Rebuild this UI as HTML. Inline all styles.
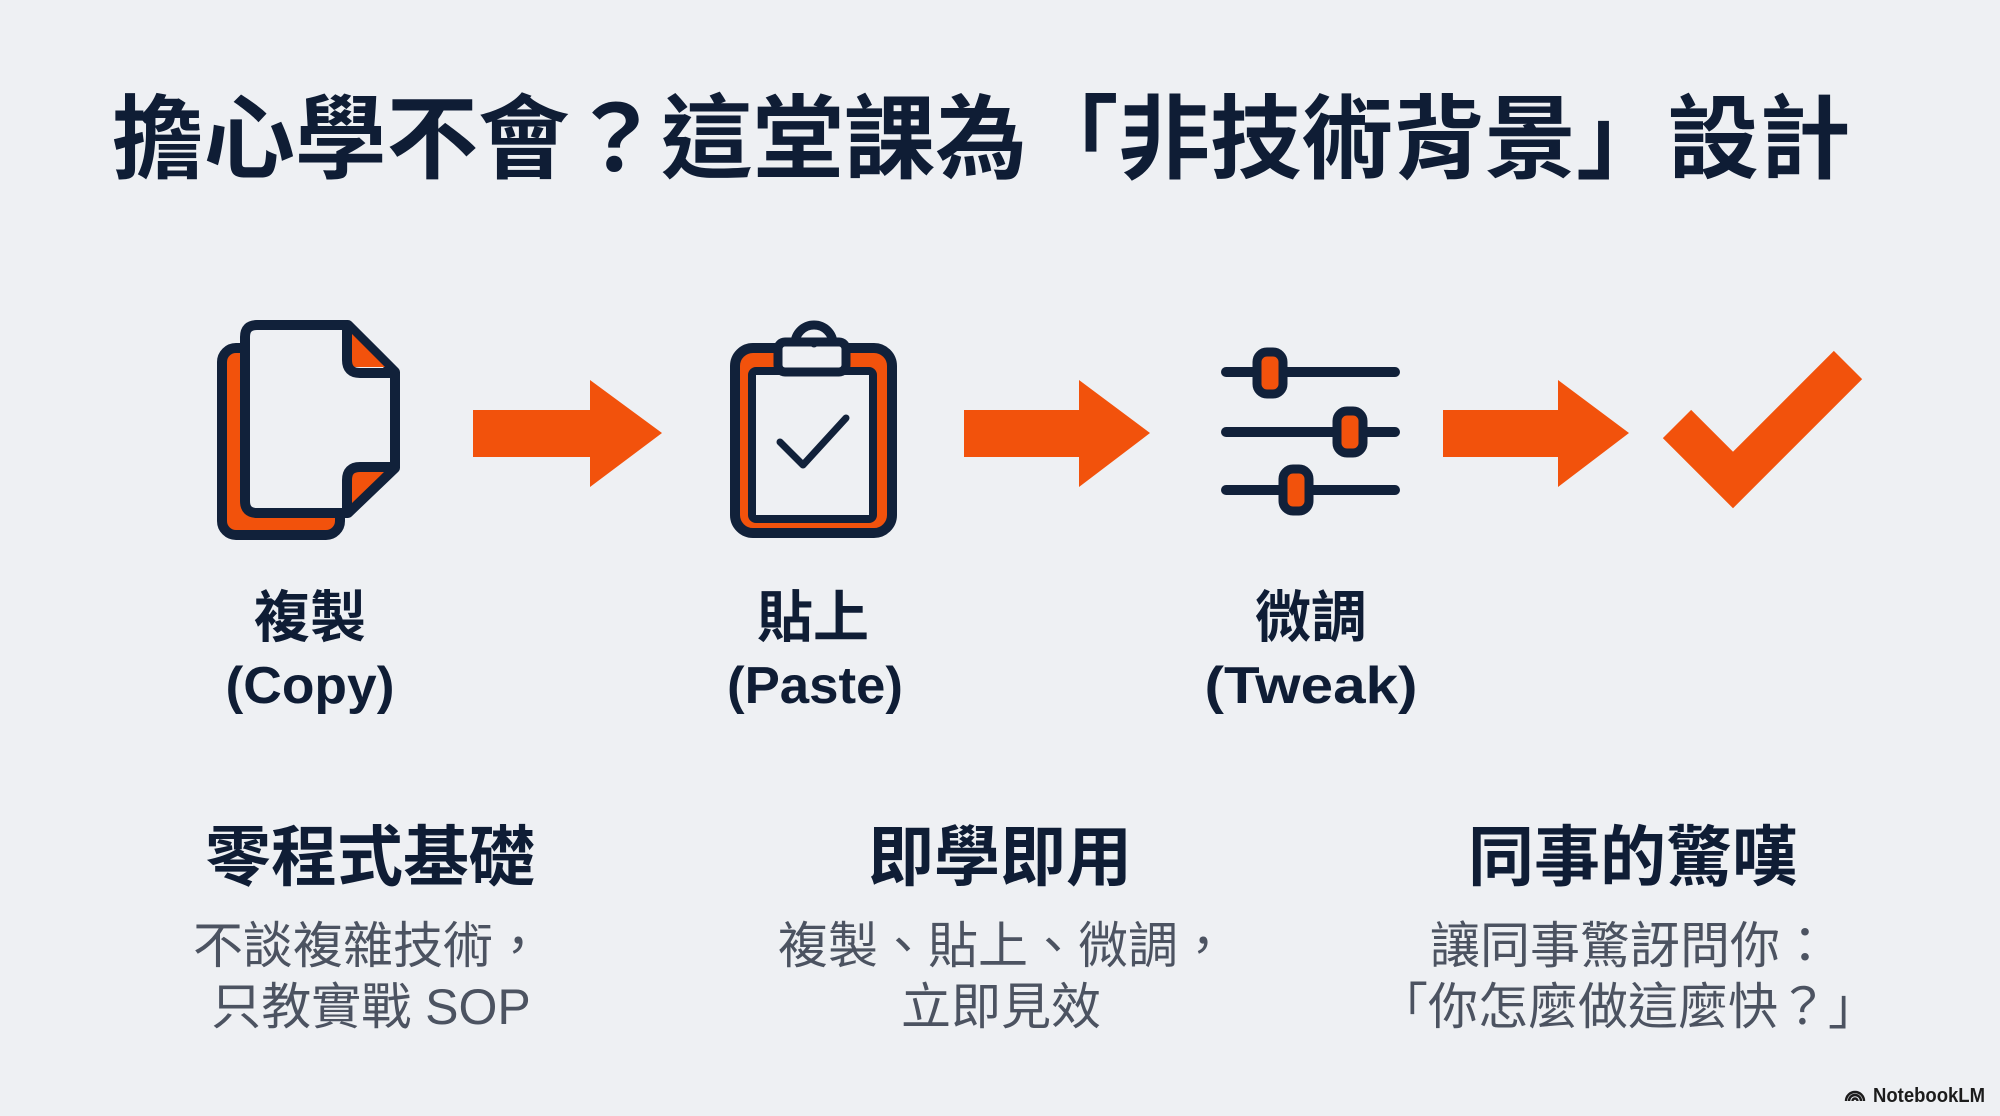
<!DOCTYPE html>
<html><head><meta charset="utf-8">
<style>
html,body{margin:0;padding:0;background:#eef0f3;}
body{width:2000px;height:1116px;overflow:hidden;}
svg{display:block;}
text{font-family:"Liberation Sans","Noto Sans CJK TC",sans-serif;}
.t{fill:#0f1d35;font-weight:700;}
.d{fill:#4c5361;font-weight:400;}
</style></head>
<body>
<svg width="2000" height="1116" viewBox="0 0 2000 1116" xmlns="http://www.w3.org/2000/svg">
<rect x="0" y="0" width="2000" height="1116" fill="#eef0f3"/>

<!-- Title -->
<text class="t" x="112" y="171" font-size="91.5">擔心學不會？這堂課為「非技術背景」設計</text>

<!-- Copy icon -->
<rect x="222" y="348" width="118" height="187" rx="14" fill="#f2520c" stroke="#11213a" stroke-width="10"/>
<path d="M257,325 L348,325 L395,372 L395,468 L348,513 L257,513 Q245,513 245,501 L245,337 Q245,325 257,325 Z" fill="#eef0f3" stroke="#11213a" stroke-width="10" stroke-linejoin="round"/>
<path d="M352,334 L352,367 L385,367 Z" fill="#f2520c"/>
<path d="M347,325 L347,360 Q347,373 360,373 L395,373" fill="none" stroke="#11213a" stroke-width="10" stroke-linejoin="round"/>
<path d="M352,503 L352,472 L384,472 Z" fill="#f2520c"/>
<path d="M395,467 L360,467 Q347,467 347,480 L347,513" fill="none" stroke="#11213a" stroke-width="10" stroke-linejoin="round"/>

<!-- Arrow 1 -->
<path d="M473,410 L590,410 L590,380 L662,433 L590,487 L590,457 L473,457 Z" fill="#f2520c"/>

<!-- Clipboard -->
<rect x="735" y="348" width="157" height="185" rx="18" fill="#f2520c" stroke="#11213a" stroke-width="10"/>
<rect x="752" y="371" width="121" height="148" rx="4" fill="#eef0f3" stroke="#11213a" stroke-width="8"/>
<path d="M795,344 A19,19 0 0 1 833,344" fill="#eef0f3" stroke="#11213a" stroke-width="9"/>
<rect x="778" y="342" width="68" height="30" rx="7" fill="#eef0f3" stroke="#11213a" stroke-width="9"/>
<circle cx="814" cy="343" r="4.5" fill="#11213a"/>
<polyline points="780,442 803,465 846,418" fill="none" stroke="#11213a" stroke-width="7" stroke-linecap="round" stroke-linejoin="round"/>

<!-- Arrow 2 -->
<path d="M964,410 L1079,410 L1079,380 L1150,433 L1079,487 L1079,457 L964,457 Z" fill="#f2520c"/>

<!-- Sliders -->
<g stroke="#11213a" stroke-width="10" stroke-linecap="round">
<line x1="1226" y1="372" x2="1395" y2="372"/>
<line x1="1226" y1="432" x2="1395" y2="432"/>
<line x1="1226" y1="490" x2="1395" y2="490"/>
</g>
<g fill="#f2520c" stroke="#11213a" stroke-width="9">
<rect x="1257" y="352" width="26" height="42" rx="10"/>
<rect x="1337" y="411" width="26" height="42" rx="10"/>
<rect x="1283" y="469" width="26" height="42" rx="10"/>
</g>

<!-- Arrow 3 -->
<path d="M1443,410 L1558,410 L1558,380 L1629,433 L1558,487 L1558,457 L1443,457 Z" fill="#f2520c"/>

<!-- Checkmark -->
<polyline points="1677,424 1733,480 1848,365" fill="none" stroke="#f2520c" stroke-width="40" stroke-linejoin="miter" stroke-linecap="butt"/>

<!-- Step labels -->
<text class="t" x="310" y="637" font-size="56" text-anchor="middle">複製</text>
<text class="t" x="310" y="703" font-size="52" text-anchor="middle" textLength="169" lengthAdjust="spacingAndGlyphs">(Copy)</text>
<text class="t" x="813" y="637" font-size="56" text-anchor="middle">貼上</text>
<text class="t" x="815" y="703" font-size="52" text-anchor="middle" textLength="176" lengthAdjust="spacingAndGlyphs">(Paste)</text>
<text class="t" x="1311" y="637" font-size="56" text-anchor="middle">微調</text>
<text class="t" x="1311" y="703" font-size="52" text-anchor="middle" textLength="213" lengthAdjust="spacingAndGlyphs">(Tweak)</text>

<!-- Bottom columns -->
<text class="t" x="370" y="880" font-size="66" text-anchor="middle">零程式基礎</text>
<text class="d" x="368" y="963" font-size="50" text-anchor="middle">不談複雜技術，</text>
<text class="d" x="371" y="1024" font-size="50" text-anchor="middle">只教實戰 SOP</text>

<text class="t" x="1000" y="880" font-size="66" text-anchor="middle">即學即用</text>
<text class="d" x="1003" y="963" font-size="50" text-anchor="middle">複製、貼上、微調，</text>
<text class="d" x="1001" y="1024" font-size="50" text-anchor="middle">立即見效</text>

<text class="t" x="1633" y="880" font-size="66" text-anchor="middle">同事的驚嘆</text>
<text class="d" x="1630" y="963" font-size="50" text-anchor="middle">讓同事驚訝問你：</text>
<text class="d" x="1628" y="1024" font-size="50" text-anchor="middle">「你怎麼做這麼快？」</text>

<!-- NotebookLM watermark -->
<g fill="none" stroke="#1c1c1c" stroke-width="2.4">
<path d="M1849,1101 A6,6 0 0 1 1861,1101"/>
<path d="M1846,1101 A9,9 0 0 1 1864,1101" transform="translate(0,0)"/>
<path d="M1852.5,1101 A2.5,2.5 0 0 1 1857.5,1101"/>
</g>
<text x="1873" y="1102" font-size="20" font-weight="700" fill="#1c1c1c" textLength="112" lengthAdjust="spacingAndGlyphs">NotebookLM</text>
</svg>
</body></html>
